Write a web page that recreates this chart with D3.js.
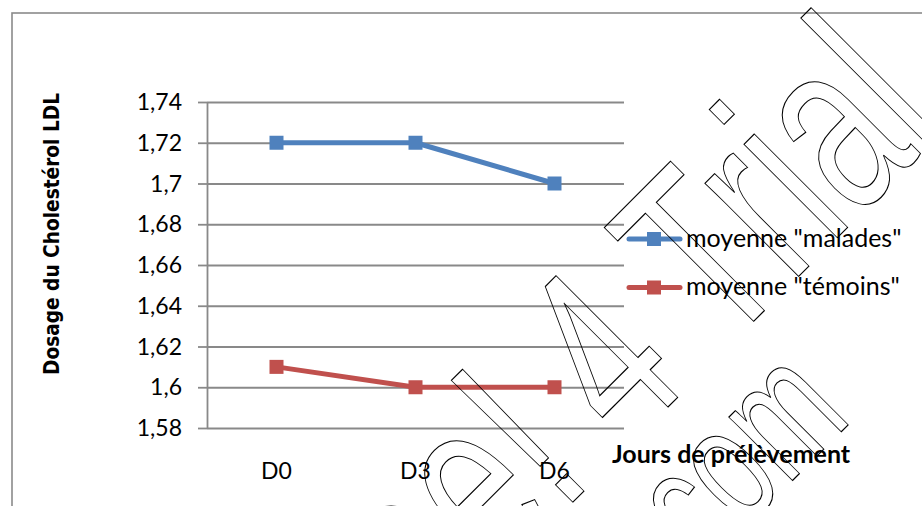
<!DOCTYPE html>
<html>
<head>
<meta charset="utf-8">
<script src="https://cdn.jsdelivr.net/npm/d3@7"></script>
<style>
  html, body { margin: 0; padding: 0; background: #fff; }
  svg { display: block; }
</style>
</head>
<body>
<svg id="chart" width="922" height="506"></svg>
<script>
// Mean LDL cholesterol by sampling day
const categories = ["D0", "D3", "D6"];
const malades = [1.72, 1.72, 1.70];
const temoins = [1.61, 1.60, 1.60];
const yTicks = [1.58, 1.60, 1.62, 1.64, 1.66, 1.68, 1.70, 1.72, 1.74];
const seriesNames = ['moyenne "malades"', 'moyenne "témoins"'];
const seriesColors = ["#4F81BD", "#C0504D"];
const yTitle = "Dosage du Cholestérol LDL";
const xTitle = "Jours de prélèvement";
const stampLines = ["Free! 4 Trial", ".com"];

const svg = d3.select("#chart");
const W = 922, H = 506;
const plot = { left: 207, right: 624, top: 102, bottom: 428 };
const gridColor = "#898989";
const labelFont = "Lato, 'Open Sans', sans-serif";

svg.append("rect").attr("width", W).attr("height", H).attr("fill", "#fff");

// chart frame
svg.append("rect")
  .attr("x", 12).attr("y", 13)
  .attr("width", 1000).attr("height", 600)
  .attr("fill", "none").attr("stroke", "#8a8a8a").attr("stroke-width", 1.6);

const x = d3.scaleBand().domain(categories).range([plot.left, plot.right]).padding(0);
const y = d3.scaleLinear().domain([1.58, 1.74]).range([plot.bottom, plot.top]);

const fr = d3.formatLocale({ decimal: ",", thousands: " ", grouping: [3], currency: ["", " €"] });
const fmt = fr.format(".3~g");

// horizontal gridlines
const grid = svg.append("g").attr("transform", `translate(${plot.left},0)`)
  .call(d3.axisLeft(y).tickValues(yTicks).tickSize(-(plot.right - plot.left)).tickFormat(""));
grid.select(".domain").remove();
grid.selectAll(".tick line").attr("stroke", gridColor).attr("stroke-width", 1.8);

// y axis with outside ticks and labels
const yAxis = svg.append("g").attr("transform", `translate(${plot.left},0)`)
  .call(d3.axisLeft(y).tickValues(yTicks).tickSize(9).tickSizeOuter(0).tickPadding(16).tickFormat(fmt));
yAxis.select(".domain").attr("stroke", gridColor).attr("stroke-width", 1.8);
yAxis.selectAll(".tick line").attr("stroke", gridColor).attr("stroke-width", 1.8);
yAxis.selectAll(".tick text")
  .attr("font-family", labelFont).attr("font-size", 23).attr("fill", "#000")
  .attr("dy", "0.33em");

// category labels
const xAxis = svg.append("g").attr("transform", `translate(0,${plot.bottom})`)
  .call(d3.axisBottom(x).tickSize(0).tickPadding(0));
xAxis.select(".domain").remove();
xAxis.selectAll(".tick text")
  .attr("font-family", labelFont).attr("font-size", 23).attr("fill", "#000")
  .attr("y", 51).attr("dy", null);

// series lines and square markers
const line = d3.line().x((d, i) => x(categories[i]) + x.bandwidth() / 2).y(d => y(d));
[malades, temoins].forEach((vals, k) => {
  svg.append("path").datum(vals)
    .attr("d", line).attr("fill", "none")
    .attr("stroke", seriesColors[k]).attr("stroke-width", 5)
    .attr("stroke-linejoin", "round");
  svg.selectAll(null).data(vals).enter().append("rect")
    .attr("x", (d, i) => x(categories[i]) + x.bandwidth() / 2 - 7)
    .attr("y", d => y(d) - 7)
    .attr("width", 14).attr("height", 14)
    .attr("fill", seriesColors[k]);
});

// legend
const legendY = [239, 287.5];
seriesNames.forEach((name, k) => {
  const g = svg.append("g").attr("transform", `translate(0,${legendY[k]})`);
  g.append("line").attr("x1", 629).attr("x2", 680).attr("y1", 0).attr("y2", 0)
    .attr("stroke", seriesColors[k]).attr("stroke-width", 5).attr("stroke-linecap", "round");
  g.append("rect").attr("x", 647).attr("y", -7).attr("width", 14).attr("height", 14)
    .attr("fill", seriesColors[k]);
  g.append("text").attr("x", 686).attr("y", 7.5)
    .attr("font-family", labelFont).attr("font-size", 25).attr("fill", "#000")
    .text(name);
});

// axis titles
svg.append("text")
  .attr("transform", "translate(59,234) rotate(-90)")
  .attr("text-anchor", "middle")
  .attr("font-family", "'DejaVu Sans', sans-serif").attr("font-weight", "bold")
  .attr("font-size", 22).attr("fill", "#000")
  .attr("textLength", 282).attr("lengthAdjust", "spacingAndGlyphs")
  .text(yTitle);

svg.append("text")
  .attr("x", 612).attr("y", 463)
  .attr("font-family", labelFont).attr("font-weight", "bold")
  .attr("font-size", 25).attr("fill", "#000")
  .text(xTitle);

// outlined diagonal stamp
const stamp = [
  { text: stampLines[0], tx: 947, ty: 128, size: 250 },
  { text: stampLines[1], tx: 853.6, ty: 419.4, size: 170 }
];
stamp.forEach(s => {
  svg.append("text")
    .attr("transform", `translate(${s.tx},${s.ty}) rotate(-45) scale(0.664,1)`)
    .attr("text-anchor", "end")
    .attr("font-family", "'Liberation Sans', Arial, sans-serif")
    .attr("font-size", s.size)
    .attr("fill", "none").attr("stroke", "#000").attr("stroke-width", 1)
    .attr("vector-effect", "non-scaling-stroke")
    .text(s.text);
});
</script>
</body>
</html>
